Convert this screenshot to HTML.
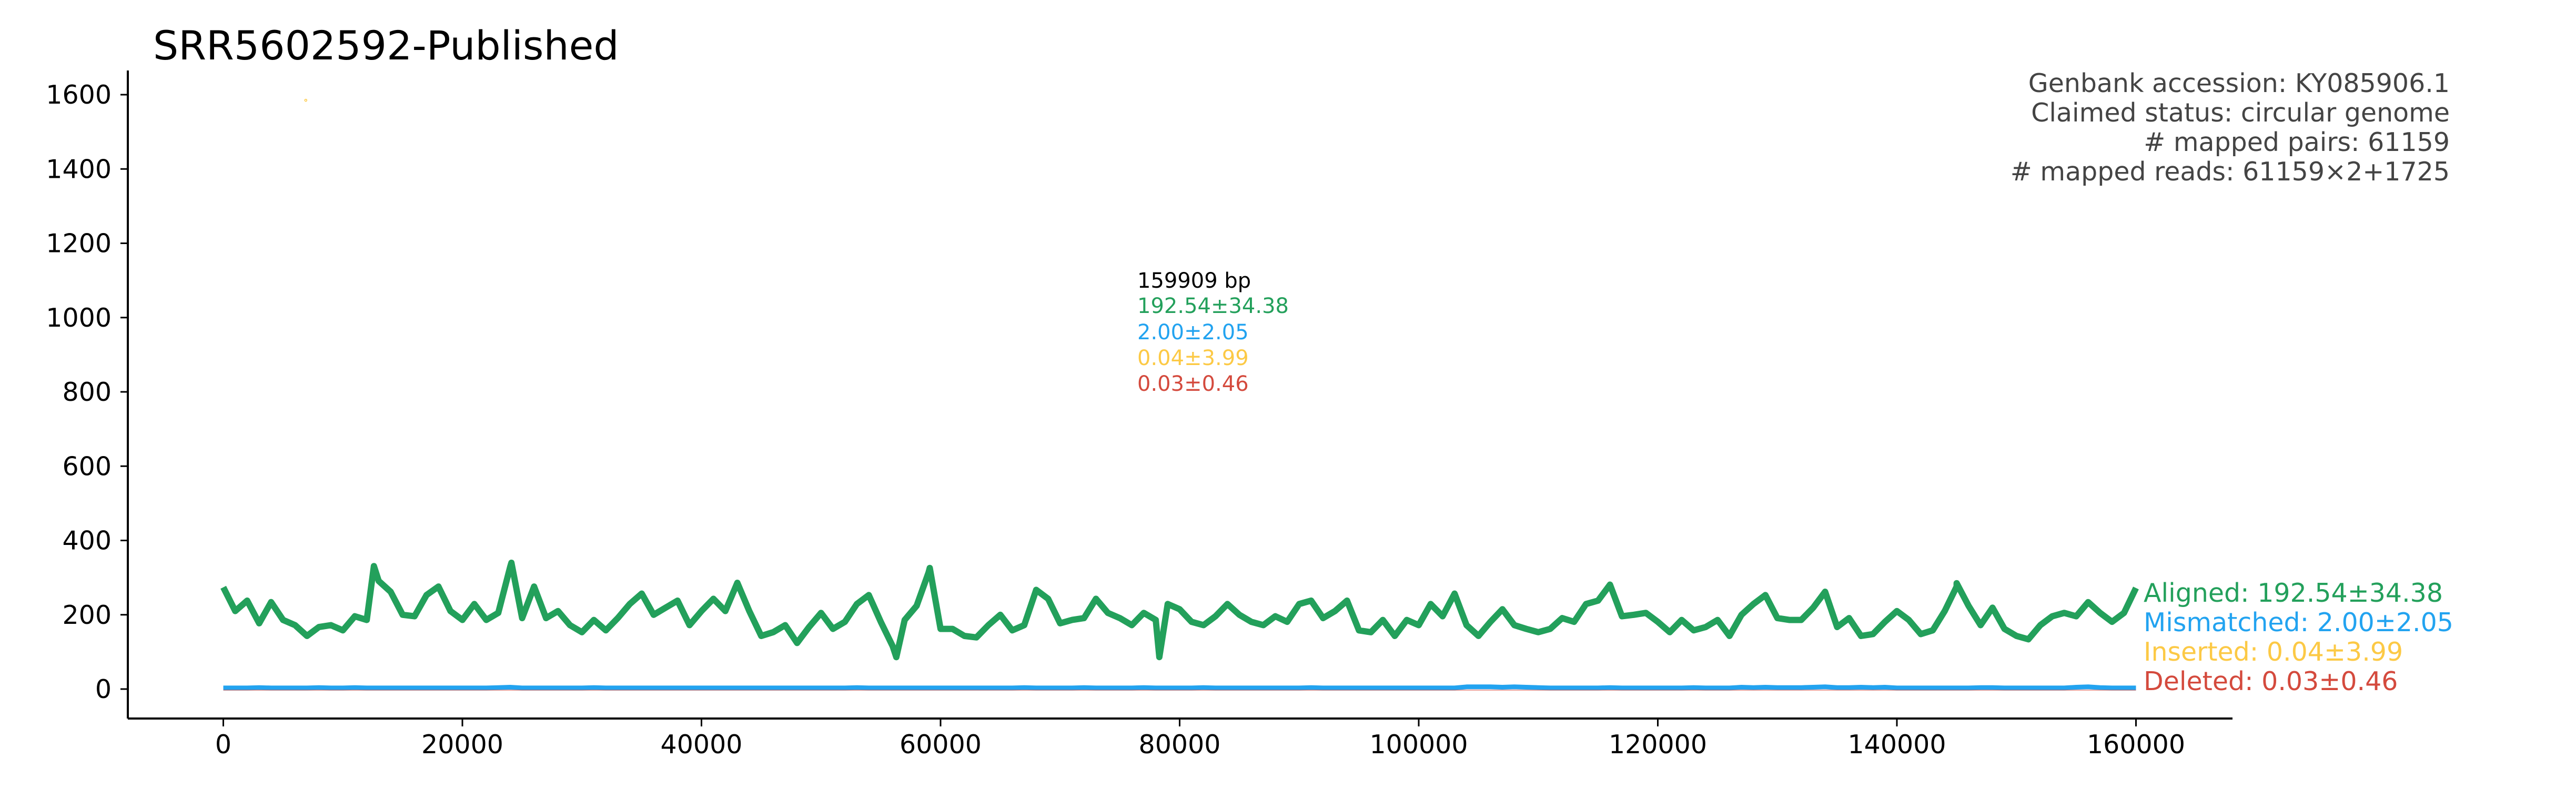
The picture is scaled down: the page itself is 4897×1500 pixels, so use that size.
<!DOCTYPE html>
<html><head><meta charset="utf-8"><style>
html,body{margin:0;padding:0;background:#fff;}
svg{display:block;font-family:"DejaVu Sans","Liberation Sans",sans-serif;}
</style></head><body>
<svg id="chart" width="4897" height="1500" viewBox="0 0 4897 1500" xmlns="http://www.w3.org/2000/svg">
<rect width="4897" height="1500" fill="#fff"/>
<text x="291" y="113" font-size="76" fill="#000">SRR5602592-Published</text>
<g id="axes"></g>
<g id="series"></g>
<g font-size="49" fill="#444" text-anchor="end">
<text x="4657" y="175">Genbank accession: KY085906.1</text>
<text x="4657" y="231">Claimed status: circular genome</text>
<text x="4657" y="287"># mapped pairs: 61159</text>
<text x="4657" y="343"># mapped reads: 61159×2+1725</text>
</g>
<g font-size="40">
<text x="2162" y="547" fill="#000">159909 bp</text>
<text x="2162" y="595" fill="#23a05b">192.54±34.38</text>
<text x="2162" y="645" fill="#22a3f0">2.00±2.05</text>
<text x="2162" y="694" fill="#fcc945">0.04±3.99</text>
<text x="2162" y="743" fill="#d44a3d">0.03±0.46</text>
</g>
<g font-size="49">
<text x="4075" y="1144" fill="#23a05b">Aligned: 192.54±34.38</text>
<text x="4075" y="1200" fill="#22a3f0">Mismatched: 2.00±2.05</text>
<text x="4075" y="1256" fill="#fcc945">Inserted: 0.04±3.99</text>
<text x="4075" y="1312" fill="#d44a3d">Deleted: 0.03±0.46</text>
</g>
</svg>
<script>
const xTicks = [0,20000,40000,60000,80000,100000,120000,140000,160000];
const yTicks = [0,200,400,600,800,1000,1200,1400,1600];
const stepBp = 1000;
const aligned = [274,210,238,177,234,186,172,143,167,172,158,196,186,291,262,200,196,253,276,210,186,229,186,205,329,191,276,191,210,172,153,186,158,191,229,257,200,219,238,172,
210,243,210,286,210,143,153,172,124,167,205,162,181,229,253,181,115,186,224,314,162,162,143,139,172,200,158,172,267,243,177,186,191,243,205,191,172,205,186,229,
215,181,172,196,229,200,181,172,196,181,229,238,191,210,238,158,153,186,143,186,172,229,196,257,172,143,181,215,172,162,153,162,191,181,229,238,281,196,200,205,
181,153,186,158,167,186,143,200,229,253,191,186,186,219,262,167,191,143,148,181,210,186,148,158,210,276,224,172,219,162,143,134,172,196,205,196,234,205,181,205,272];
const peakPos = [12600,24100,56300,59100,78300,145000];
const peakVal = [331,340,86,326,86,285];
const mismatched = [3,3,3,4,3,3,3,3,4,3,3,4,3,3,3,3,3,3,3,3,3,3,3,4,5,3,3,3,3,3,3,4,3,3,3,3,3,3,3,3,
3,3,3,3,3,3,3,3,3,3,3,3,3,4,3,3,3,3,3,3,3,3,3,3,3,3,3,4,3,3,3,3,4,3,3,3,3,4,3,3,
3,3,4,3,3,3,3,3,3,3,3,4,3,3,3,3,3,3,3,3,3,3,3,3,6,6,6,5,6,5,4,3,3,3,3,3,4,3,3,3,
3,3,3,4,3,3,3,5,4,5,4,4,4,5,6,4,4,5,4,5,3,3,3,3,3,3,3,4,4,3,3,3,3,3,3,5,6,4,3,3,3];
const insertedOutlierPos = [6900];
const insertedOutlierVal = [1585];

const NS='http://www.w3.org/2000/svg';
const X0=424.5, XPX=454.5/20000, Y0=1310, YPX=141.25/200;
function xs(v){return X0+v*XPX;}
function ys(v){return Y0-v*YPX;}
const axes=document.getElementById('axes'), ser=document.getElementById('series');
function mk(tag,attrs,parent){const e=document.createElementNS(NS,tag);for(const k in attrs)e.setAttribute(k,attrs[k]);parent.appendChild(e);return e;}

let e=mk('line',{x1:243,y1:134,x2:243,y2:1366,stroke:'#000','stroke-width':4},axes);


e=mk('line',{x1:243,y1:1366,x2:4244,y2:1366,stroke:'#000','stroke-width':4},axes);


yTicks.forEach(t=>{
  const y=ys(t);
  let l=mk('line',{x1:229,y1:y,x2:243,y2:y,stroke:'#000','stroke-width':3},axes);
  
  
  let tx=mk('text',{x:212,y:y+17,'font-size':49,'text-anchor':'end',fill:'#000'},axes);
  tx.textContent=t;
  
  
});
xTicks.forEach(t=>{
  const x=xs(t);
  let l=mk('line',{x1:x,y1:1366,x2:x,y2:1381,stroke:'#000','stroke-width':3},axes);
  
  
  let tx=mk('text',{x:x,y:1432,'font-size':49,'text-anchor':'middle',fill:'#000'},axes);
  tx.textContent=t;
  
  
});

let pts=aligned.map((v,i)=>[i*stepBp,v]);
peakPos.forEach((p,i)=>pts.push([p,peakVal[i]]));
pts.sort((a,b)=>a[0]-b[0]);
let p=mk('polyline',{points:pts.map(q=>xs(q[0]).toFixed(1)+','+ys(q[1]).toFixed(1)).join(' '),fill:'none',stroke:'#23a05b','stroke-width':12,'stroke-linejoin':'round'},ser);



let mp=mk('polyline',{points:mismatched.map((v,i)=>xs(i*stepBp).toFixed(1)+','+ys(v).toFixed(1)).join(' '),fill:'none',stroke:'#22a3f0','stroke-width':9,'stroke-linejoin':'round'},ser);


let dl=mk('line',{x1:xs(0),y1:ys(0)+2,x2:xs(160000),y2:ys(0)+2,stroke:'#d44a3d','stroke-width':2,opacity:0.5},ser);


insertedOutlierPos.forEach((pos,i)=>{
  let c=mk('circle',{cx:xs(pos),cy:ys(insertedOutlierVal[i]),r:2,fill:'none',stroke:'#fcc945','stroke-width':1.5},ser);
  
  
});
</script>
</body></html>
